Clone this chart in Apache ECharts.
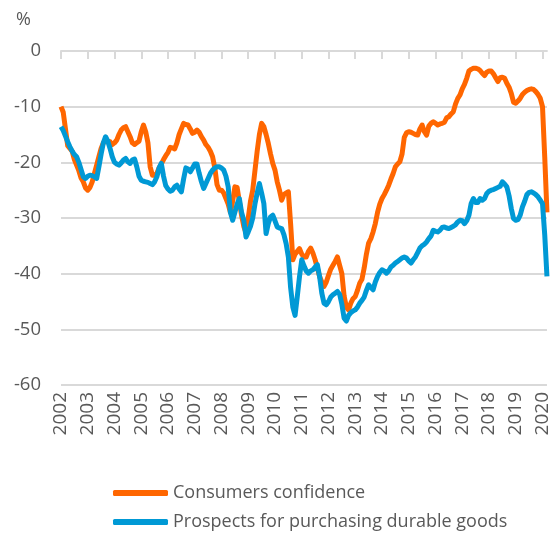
<!DOCTYPE html>
<html>
<head>
<meta charset="utf-8">
<script src="https://cdn.jsdelivr.net/npm/echarts@6/dist/echarts.min.js"></script>
<style>
html,body{margin:0;padding:0;background:#fff;}
#chart{width:552px;height:533px;}
</style>
</head>
<body>
<div id="chart"></div>
<script>
// Monthly data, Jan 2002 .. Mar 2020
const startYear = 2002;
const seriesNames = ['Consumers confidence', 'Prospects for purchasing durable goods'];
const yTicks = [0, -10, -20, -30, -40, -50, -60];

const consumersConfidence = [
  -10, -11, -14, -17, -17.5, -18, -19.5, -20.5, -21.5, -22.8, -23.5, -24.6,
  -25, -24.5, -23.5, -22, -20.5, -19, -17.5, -16.5, -16, -16.2, -16.3, -16.8,
  -16.5, -16, -15, -14.2, -13.8, -13.6, -14.5, -15.4, -16.5, -16.8, -16.5, -16.2,
  -14.5, -13.3, -14.5, -16.5, -20.8, -22.3, -22.3, -22, -21, -20.3, -19.5, -18.8,
  -18.2, -17.3, -17.4, -17.6, -16.5, -15, -14, -13, -13.2, -13.3, -14, -14.8,
  -14.6, -14.2, -14.6, -15.4, -16, -16.8, -17.3, -18, -19, -21, -24, -25,
  -25, -25.5, -26.5, -27.5, -29, -27, -24.4, -24.5, -27, -29.5, -31.5, -32.7,
  -30, -27, -25, -21.5, -18, -15, -13, -13.6, -15, -16.6, -18.5, -20.2,
  -21.4, -23.5, -25, -26.8, -25.8, -25.5, -25.3, -31, -37.5, -36.5, -36, -35.5,
  -36.5, -37, -37, -36, -35.4, -36.3, -37.5, -39, -40.5, -41.5, -42.3, -41.5,
  -40.3, -39.2, -38.5, -37.8, -37, -38.5, -40, -44, -46, -46.5, -45.3, -44.5,
  -44.1, -43, -41.7, -41, -39, -36.5, -34.5, -33.7, -32.5, -31, -29, -27.5,
  -26.5, -25.8, -25, -24.1, -23, -22, -20.8, -20.3, -19.9, -18.5, -15.5, -14.7,
  -14.5, -14.6, -14.8, -15, -15.1, -14, -13.3, -14.5, -15.1, -13.5, -13, -12.7,
  -13, -13.3, -13.1, -13, -12.8, -12, -11.8, -11.3, -10.9, -9.5, -8.5, -7.9,
  -6.8, -6, -4.9, -3.6, -3.3, -3.1, -3.1, -3.2, -3.5, -4, -4.4, -3.8,
  -3.6, -3.6, -4.1, -4.8, -5.5, -4.8, -4.7, -4.9, -5.8, -6.5, -7.6, -9.2,
  -9.4, -9, -8.5, -7.8, -7.4, -7.1, -6.9, -6.8, -6.9, -7.3, -7.8, -8.5,
  -10, -19, -29
];

const durableGoods = [
  -13.6, -14.3, -15.3, -16.3, -17.2, -18, -18.6, -19, -20, -21.3, -22.6, -22.9,
  -22.5, -22.3, -22.4, -22.6, -22.9, -20.8, -18.5, -16.5, -15.4, -16.2, -17.5, -19,
  -20, -20.3, -20.5, -20.1, -19.6, -19.3, -19.9, -20.2, -19.6, -19.4, -20.8, -22.5,
  -23.2, -23.4, -23.5, -23.6, -23.8, -24, -23.5, -22.6, -21, -20.2, -22.5, -24.2,
  -24.8, -25.2, -25, -24.4, -24.1, -24.8, -25.3, -23, -21, -21.2, -21.7, -21,
  -20.3, -20.3, -22, -23.5, -24.7, -23.8, -22.9, -22, -21.4, -21, -20.8, -20.8,
  -21, -21.4, -22.5, -24.4, -29, -30.4, -29, -27.5, -26.5, -29, -30.4, -33.4,
  -32.5, -31.5, -30, -27.5, -25.5, -23.8, -25.5, -27.4, -32.8, -31, -29.8, -29.5,
  -30.5, -31.6, -31.8, -31.9, -33, -34.6, -37, -42.5, -46, -47.5, -44.1, -40.5,
  -37.5, -38.6, -39.5, -39.9, -39.5, -39.3, -38.8, -38.4, -40.5, -43.5, -45.3, -45.6,
  -45, -44.2, -43.8, -43.5, -43.2, -43.7, -45.5, -48, -48.5, -47.5, -47, -46.7,
  -46.5, -46, -45.3, -44.8, -44.2, -43, -42, -42.5, -42.9, -41.5, -40.5, -39.8,
  -39.3, -39.5, -39.9, -39.5, -38.8, -38.5, -38.1, -37.8, -37.5, -37.2, -37, -37.2,
  -37.7, -38.1, -37.5, -37, -36.2, -35.4, -35, -34.7, -34.3, -33.7, -33.2, -32.2,
  -32.4, -32.5, -32.2, -31.7, -31.6, -31.8, -31.9, -31.7, -31.5, -31.2, -30.7, -30.4,
  -30.5, -31, -30.5, -29.5, -27.4, -26.5, -27.2, -27.2, -26.5, -26.8, -26.5, -25.6,
  -25.2, -25, -24.9, -24.7, -24.5, -24.3, -23.5, -23.9, -24.4, -26, -28.3, -30.1,
  -30.4, -30.3, -29.5, -28, -27, -25.8, -25.4, -25.3, -25.5, -25.8, -26.2, -26.8,
  -27.4, -33, -40.5
];

const months = consumersConfidence.map(function (_, i) {
  const y = startYear + Math.floor(i / 12);
  const m = (i % 12) + 1;
  return y + '-' + (m < 10 ? '0' + m : m);
});

const chart = echarts.init(document.getElementById('chart'), null, {renderer: 'canvas'});
const FONT = 'Open Sans';
const GREY = '#595959';
const GRID = '#d9d9d9';
const yearOnly = function (i) { return i % 12 === 0; };

chart.setOption({
  animation: false,
  backgroundColor: '#fff',
  textStyle: {fontFamily: FONT},
  title: {
    text: '%', left: 11, top: 6,
    textStyle: {fontFamily: FONT, fontSize: 18, fontWeight: 'normal', color: GREY}
  },
  grid: {left: 61, right: 5, top: 51, bottom: 148, containLabel: false},
  legend: [
    {
      data: [seriesNames[0]], orient: 'vertical', left: 108, top: 479,
      icon: 'roundRect', itemWidth: 55, itemHeight: 6, itemGap: 0,
      textStyle: {fontFamily: FONT, fontSize: 18, color: GREY}
    },
    {
      data: [seriesNames[1]], orient: 'vertical', left: 108, top: 508,
      icon: 'roundRect', itemWidth: 55, itemHeight: 6, itemGap: 0,
      textStyle: {fontFamily: FONT, fontSize: 18, color: GREY}
    }
  ],
  xAxis: [
    {
      type: 'category', data: months, boundaryGap: false, position: 'bottom',
      axisLine: {show: false}, axisTick: {show: false},
      axisLabel: {
        interval: yearOnly, rotate: 90, margin: 7,
        fontFamily: FONT, fontSize: 19, color: GREY,
        formatter: function (v) { return v.slice(0, 4); }
      },
      splitLine: {show: false}
    },
    {
      type: 'category', data: months, boundaryGap: false, position: 'top',
      axisLine: {show: true, lineStyle: {color: GRID, width: 2}},
      axisTick: {show: true, inside: true, length: 8, interval: yearOnly, lineStyle: {color: GRID, width: 2}},
      axisLabel: {show: false},
      splitLine: {show: false}
    }
  ],
  yAxis: {
    type: 'value', min: yTicks[yTicks.length - 1], max: yTicks[0], interval: 10,
    axisLine: {show: false}, axisTick: {show: false},
    axisLabel: {fontFamily: FONT, fontSize: 18.5, color: GREY, margin: 20},
    splitLine: {lineStyle: {color: GRID, width: 2}}
  },
  series: [
    {
      name: seriesNames[0], type: 'line', data: consumersConfidence,
      xAxisIndex: 0, showSymbol: false, symbol: 'none',
      lineStyle: {color: '#FF6600', width: 5, join: 'round'},
      itemStyle: {color: '#FF6600'}, z: 2
    },
    {
      name: seriesNames[1], type: 'line', data: durableGoods,
      xAxisIndex: 0, showSymbol: false, symbol: 'none',
      lineStyle: {color: '#0099D5', width: 5, join: 'round'},
      itemStyle: {color: '#0099D5'}, z: 3
    }
  ]
});
</script>
</body>
</html>
